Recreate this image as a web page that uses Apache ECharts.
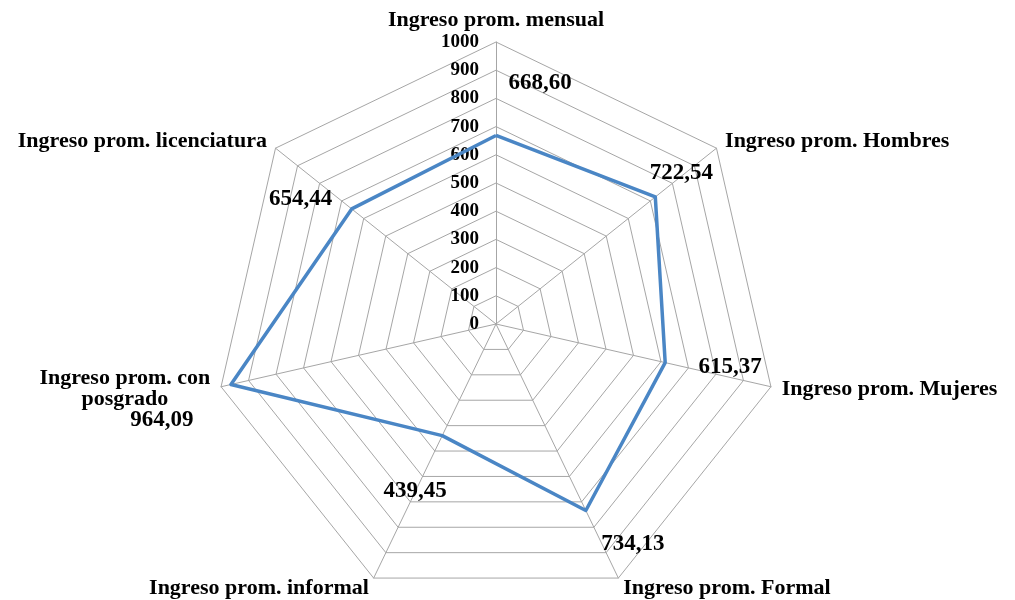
<!DOCTYPE html>
<html><head><meta charset="utf-8">
<script src="https://cdn.jsdelivr.net/npm/echarts@6/dist/echarts.min.js"></script>
<style>html,body{margin:0;padding:0;background:#fff}#c{width:1015px;height:600px}</style>
</head><body><div id="c"></div>
<script>
// Categories in clockwise order starting at the top
const categories = ['Ingreso prom. mensual','Ingreso prom. Hombres','Ingreso prom. Mujeres','Ingreso prom. Formal','Ingreso prom. informal','Ingreso prom. con\nposgrado','Ingreso prom. licenciatura'];
const values = [668.60, 722.54, 615.37, 734.13, 439.45, 964.09, 654.44];
const tickLabels = [0,100,200,300,400,500,600,700,800,900,1000];
const axisMax = 1000;

// label offsets (style), same order as categories
const labelOffsets = [[44,-52],[26,-24],[65,4],[47,34],[-27,55],[-69,36],[-51,-10]];

const n = categories.length;
// ECharts radar places indicators counter-clockwise: reorder
const ccwIdx = [0].concat(Array.from({length:n-1},(_,i)=>n-1-i));
const CENTER = [496, 324];
const R = 282;
const serif = 'Liberation Serif';
const fmt = v => v.toFixed(2).replace('.', ',');

const chart = echarts.init(document.getElementById('c'));
chart.setOption({
  animation:false,
  backgroundColor:'#fff',
  radar:{
    center:CENTER, radius:R, startAngle:90, shape:'polygon', splitNumber:10,
    indicator: ccwIdx.map(i=>({name:categories[i], min:0, max:axisMax})),
    nameGap:11,
    axisName:{color:'#000', fontFamily:serif, fontSize:22, fontWeight:'bold', lineHeight:21,
      formatter: name => name.split('\n').map(s=>'{n|'+s+'}').join('\n'),
      rich:{n:{align:'center', fontFamily:serif, fontSize:22, fontWeight:'bold', color:'#000', lineHeight:21}}},
    axisLine:{lineStyle:{color:'#a6a6a6', width:1}},
    splitLine:{lineStyle:{color:'#a6a6a6', width:1}},
    splitArea:{show:false},
    axisLabel:{show:false}, axisTick:{show:false}
  },
  polar:{center:CENTER, radius:R},
  angleAxis:{type:'value', min:0, max:360, startAngle:90, clockwise:true, show:false},
  radiusAxis:{type:'value', min:0, max:axisMax, interval:100,
    axisLine:{show:false}, axisTick:{show:false}, splitLine:{show:false},
    axisLabel:{show:true, color:'#000', fontFamily:serif, fontSize:19, fontWeight:'bold', margin:17,
      formatter: v => tickLabels.includes(v) ? String(v) : ''}
  },
  series:[
    {type:'radar', symbol:'none', lineStyle:{color:'#4a86c5', width:3.5},
     data:[{value: ccwIdx.map(i=>values[i])}]},
    {type:'scatter', coordinateSystem:'polar', symbolSize:0, silent:true,
     itemStyle:{opacity:1},
     data: values.map((v,k)=>({value:[v, k*360/n], label:{offset:labelOffsets[k]}})),
     label:{show:true, position:'inside', color:'#000', opacity:1, fontFamily:serif, fontSize:23, fontWeight:'bold',
       formatter:p=>fmt(p.value[0])}}
  ]
});
</script></body></html>
